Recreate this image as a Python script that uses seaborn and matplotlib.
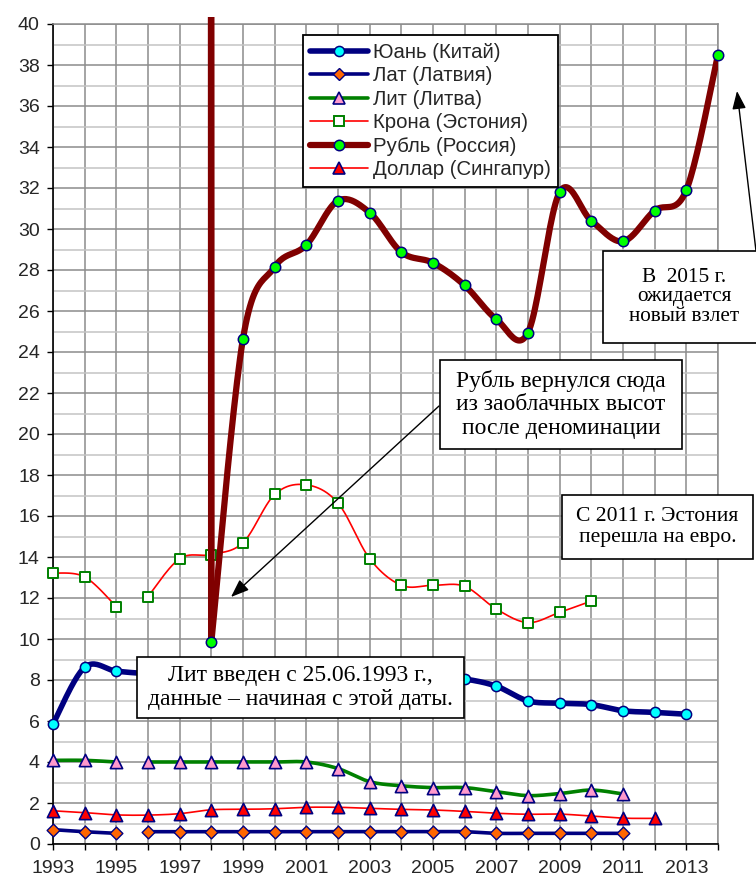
import numpy as np
import pandas as pd
import seaborn as sns
import matplotlib
matplotlib.use("Agg")
import matplotlib.pyplot as plt
from matplotlib.lines import Line2D
from matplotlib.patches import Rectangle
from matplotlib.transforms import Bbox, TransformedBbox

# ---------------- data ----------------
yuan_years = list(range(1993, 2014))
yuan = [5.85, 8.62, 8.43, 8.31, 8.29, 8.28, 8.28, 8.28, 8.28, 8.28, 8.28,
        8.28, 8.19, 8.05, 7.70, 6.98, 6.87, 6.80, 6.50, 6.42, 6.33]

lat_years = list(range(1993, 2012))
lat = [0.70, 0.60, 0.52, 0.60, 0.60, 0.60, 0.60, 0.60, 0.60, 0.60, 0.60,
       0.60, 0.60, 0.60, 0.52, 0.52, 0.52, 0.52, 0.52]

lit_years = list(range(1993, 2012))
lit = [4.08, 4.08, 4.00, 4.00, 4.00, 4.00, 4.00, 4.00, 4.00, 3.68, 3.04,
       2.84, 2.75, 2.75, 2.55, 2.36, 2.46, 2.63, 2.44]

krona_years = list(range(1993, 2011))
krona = [13.22, 13.03, 11.58, 12.07, 13.92, 14.12, 14.70, 17.05, 17.52,
         16.63, 13.92, 12.62, 12.62, 12.57, 11.46, 10.80, 11.30, 11.85]

# 1997 value is the pre-denomination rate (far above the chart)
rub_years = list(range(1997, 2015))
rub = [5785.0, 9.86, 24.65, 28.15, 29.22, 31.38, 30.80, 28.87, 28.35, 27.25,
       25.60, 24.95, 31.80, 30.40, 29.40, 30.90, 31.90, 38.50]

sgd_years = list(range(1993, 2013))
sgd = [1.62, 1.53, 1.42, 1.41, 1.48, 1.67, 1.69, 1.72, 1.79, 1.79, 1.74,
       1.69, 1.66, 1.59, 1.50, 1.45, 1.46, 1.36, 1.26, 1.25]

series_names = ["Юань (Китай)", "Лат (Латвия)", "Лит (Литва)",
                "Крона (Эстония)", "Рубль (Россия)", "Доллар (Сингапур)"]

x_tick_years = list(range(1993, 2015))
x_label_years = list(range(1993, 2014, 2))
y_ticks = list(range(0, 41, 2))

# ---------------- style ----------------
sns.set_theme(style="white")
plt.rcParams["font.family"] = ["Liberation Sans", "DejaVu Sans"]

W, H = 756, 877
fig = plt.figure(figsize=(W / 100, H / 100), dpi=100)
ax = fig.add_axes([53 / W, (H - 844) / H, 665 / W, 820 / H])


def smooth(xs, ys, n=24):
    P = np.column_stack([xs, ys]).astype(float)
    k = len(P)
    if k < 3:
        return P[:, 0], P[:, 1]
    out = []
    t = np.linspace(0, 1, n)[:, None]
    for i in range(k - 1):
        p0 = P[i - 1] if i > 0 else P[i]
        p1, p2 = P[i], P[i + 1]
        p3 = P[i + 2] if i + 2 < k else P[i + 1]
        c1 = p1 + (p2 - p0) / 6
        c2 = p2 - (p3 - p1) / 6
        seg = (1 - t) ** 3 * p1 + 3 * (1 - t) ** 2 * t * c1 + 3 * (1 - t) * t ** 2 * c2 + t ** 3 * p2
        out.append(seg if i == 0 else seg[1:])
    S = np.vstack(out)
    return S[:, 0], S[:, 1]


def draw(years, vals, breaks, color, lw, z, smooth_on=True):
    df = pd.DataFrame({"year": years, "val": vals})
    cuts = [years[0]] + breaks + [years[-1] + 1]
    for a, b in zip(cuts[:-1], cuts[1:]):
        part = df[(df.year >= a) & (df.year < b)]
        if smooth_on:
            sx, sy = smooth(part.year.values, part.val.values)
        else:
            sx, sy = part.year.values, part.val.values
        sns.lineplot(x=sx, y=sy, ax=ax, color=color, linewidth=lw, sort=False,
                     estimator=None, legend=False, zorder=z,
                     solid_capstyle="round", solid_joinstyle="round")


def marks(years, vals, marker, s, face, edge, ew, z):
    df = pd.DataFrame({"year": years, "val": vals})
    df = df[df.val <= 40]
    sns.scatterplot(data=df, x="year", y="val", ax=ax, marker=marker, s=s,
                    color=face, edgecolor=edge, linewidth=ew, zorder=z,
                    clip_on=False, legend=False)


NAVY = "#000080"
MAROON = "#800000"
GREEN = "#008000"
RED = "#ff0000"

# Yuan
draw(yuan_years, yuan, [], NAVY, 4.0, 3)
marks(yuan_years, yuan, "o", 54, "#00ffff", NAVY, 1.1, 3.1)
# Lat
draw(lat_years, lat, [1996], NAVY, 2.6, 4)
marks(lat_years, lat, "D", 42, "#ff6600", NAVY, 1.0, 4.1)
# Lit
draw(lit_years, lit, [1996], GREEN, 2.6, 5)
marks(lit_years, lit, "^", 78, "#ff99cc", NAVY, 1.2, 5.1)
# Krona
draw(krona_years, krona, [1996], RED, 1.2, 6)
marks(krona_years, krona, "s", 50, "white", GREEN, 1.4, 6.1)
# Ruble: the jump 1997->1998 is straight, the rest smoothed
draw(rub_years[:2], rub[:2], [], MAROON, 4.8, 7, smooth_on=False)
jump = ax.lines[-1]
jump.set_clip_box(TransformedBbox(Bbox([[0, 0], [1, 1 + 7 / 820]]), ax.transAxes))
draw(rub_years[1:], rub[1:], [], MAROON, 4.5, 7)
marks(rub_years, rub, "o", 56, "#00ff00", NAVY, 1.1, 7.1)
# Singapore dollar
draw(sgd_years, sgd, [], RED, 1.2, 8)
marks(sgd_years, sgd, "^", 78, "#ff0000", NAVY, 1.2, 8.1)

# ---------------- axes ----------------
ax.set_xlim(1993, 2014)
ax.set_ylim(0, 40)
ax.set_xticks(x_tick_years)
ax.set_xticklabels([str(y) if y in x_label_years else "" for y in x_tick_years])
ax.set_yticks(y_ticks)
ax.set_yticks(list(range(0, 41)), minor=True)
ax.set_xlabel("")
ax.set_ylabel("")
ax.set_axisbelow(True)
ax.grid(which="major", axis="both", color="#8c8c8c", linewidth=1.1)
ax.grid(which="minor", axis="y", color="#c4c4c4", linewidth=1.1)
ax.tick_params(axis="both", which="major", direction="out", length=4.5,
               width=1.0, color="black", labelsize=14, pad=5,
               bottom=True, left=True)
ax.tick_params(axis="x", which="major", pad=7)
ax.tick_params(axis="y", which="minor", length=0)
for side in ["left", "bottom"]:
    ax.spines[side].set_color("black")
    ax.spines[side].set_linewidth(1.2)
for side in ["top", "right"]:
    ax.spines[side].set_color("#8c8c8c")
    ax.spines[side].set_linewidth(1.1)

# ---------------- legend ----------------
handles = [
    Line2D([], [], color=NAVY, lw=4.0, marker="o", ms=7.3, mfc="#00ffff", mec=NAVY, mew=1.1),
    Line2D([], [], color=NAVY, lw=2.6, marker="D", ms=6.3, mfc="#ff6600", mec=NAVY, mew=1.0),
    Line2D([], [], color=GREEN, lw=2.6, marker="^", ms=8.8, mfc="#ff99cc", mec=NAVY, mew=1.2),
    Line2D([], [], color=RED, lw=1.2, marker="s", ms=7.0, mfc="white", mec=GREEN, mew=1.4),
    Line2D([], [], color=MAROON, lw=4.5, marker="o", ms=7.5, mfc="#00ff00", mec=NAVY, mew=1.1),
    Line2D([], [], color=RED, lw=1.2, marker="^", ms=8.8, mfc="#ff0000", mec=NAVY, mew=1.2),
]
leg = ax.legend(handles, series_names, loc="upper left",
                bbox_to_anchor=(302.7 / W, 1 - 35 / H), bbox_transform=fig.transFigure,
                borderaxespad=0, frameon=True, fancybox=False, framealpha=1,
                edgecolor="black", fontsize=14.7, handlelength=2.8,
                handletextpad=0.25, labelspacing=0.22, borderpad=0.38)
leg.get_frame().set_linewidth(1.3)
leg.set_zorder(20)

# ---------------- annotation boxes ----------------
SERIF = ["Liberation Serif", "DejaVu Serif"]


def box(x0, y0, x1, y1, text, size, ls=1.2):
    fig.add_artist(Rectangle((x0 / W, 1 - y1 / H), (x1 - x0) / W, (y1 - y0) / H,
                             transform=fig.transFigure, facecolor="white",
                             edgecolor="black", linewidth=1.2, zorder=30))
    fig.text((x0 + x1) / 2 / W, 1 - (y0 + y1) / 2 / H, text, ha="center",
             va="center", fontsize=size, family=SERIF, linespacing=ls,
             zorder=31, color="black")


def arrow(xs, ys, xt, yt):
    ax.annotate("", xy=(xt, H - yt), xycoords="figure pixels",
                xytext=(xs, H - ys), textcoords="figure pixels",
                arrowprops=dict(arrowstyle="-|>,head_length=1.1,head_width=0.42",
                                mutation_scale=10, color="black", lw=1.0,
                                shrinkA=0, shrinkB=0),
                annotation_clip=False, zorder=29)


box(440, 360, 682, 449, "Рубль вернулся сюда\nиз заоблачных высот\nпосле деноминации", 17, 1.13)
arrow(439, 406, 231, 597)
box(137, 657, 464, 718, "Лит введен с 25.06.1993 г.,\nданные – начиная с этой даты.", 17, 1.13)
box(603, 251, 766, 343, "В  2015 г.\nожидается\nновый взлет", 15.3, 1.05)
arrow(756, 251, 737, 91)
box(562, 495, 753, 559, "С 2011 г. Эстония\nперешла на евро.", 15.6, 1.12)

fig.savefig("out.png", dpi=100)
